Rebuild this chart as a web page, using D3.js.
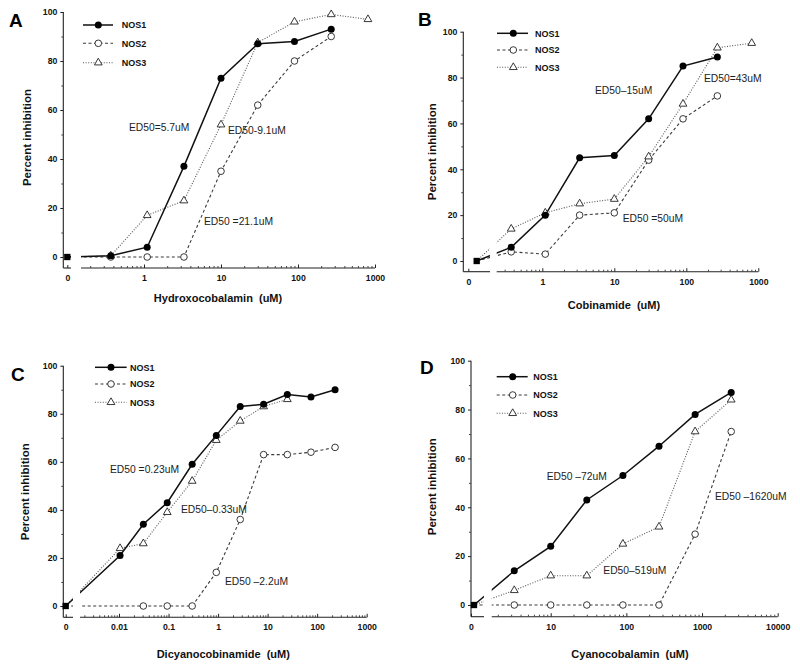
<!DOCTYPE html>
<html><head><meta charset="utf-8">
<script src="https://cdn.jsdelivr.net/npm/d3@7"></script>
<style>body{margin:0;background:#fff}svg{display:block}</style>
</head><body><svg id="c" width="800" height="666"></svg>
<script>
// ---------- DATA ----------
const seriesNames = ["NOS1", "NOS2", "NOS3"];

// Panel A – Hydroxocobalamin
const concA = [0, 0.37, 1.1, 3.3, 10, 30, 90, 270, 810];
const nos1A = [0, 0.5, 4, 37, 73, 87, 88, 93, null];
const nos2A = [0, 0, 0, 0, 35, 62, 80, 90, null];
const nos3A = [0, 0.5, 17, 23, 54, 87.5, 96, 99, 97];
const tickValsA = [1, 10, 100, 1000];
const tickLabsA = ["1", "10", "100", "1000"];
const notesA = ["ED50=5.7uM", "ED50-9.1uM", "ED50 =21.1uM"];

// Panel B – Cobinamide
const concB = [0, 0.37, 1.1, 3.3, 10, 30, 90, 270, 810];
const nos1B = [0, 6, 20, 45, 46, 62, 85, 89, null];
const nos2B = [0, 4, 3, 20, 21, 44, 62, 72, null];
const nos3B = [0, 14, 21, 25, 27, 45.5, 68.5, 93, 95];
const tickValsB = [1, 10, 100, 1000];
const tickLabsB = ["1", "10", "100", "1000"];
const notesB = ["ED50\u201315uM", "ED50=43uM", "ED50 =50uM"];

// Panel C – Dicyanocobinamide
const concC = [0, 0.0105, 0.031, 0.094, 0.30, 0.92, 2.8, 8.3, 25, 75, 230];
const nos1C = [0, 21, 34, 43, 59, 71, 83, 84, 88, 87, 90];
const nos2C = [0, null, 0, 0, 0, 14, 36, 63, 63, 64, 66];
const nos3C = [0, 24, 26, 39, 52, 69, 77, 83, 86, null, null];
const tickValsC = [0.01, 0.1, 1, 10, 100, 1000];
const tickLabsC = ["0.01", "0.1", "1", "10", "100", "1000"];
const notesC = ["ED50 =0.23uM", "ED50\u20130.33uM", "ED50 \u20132.2uM"];

// Panel D – Cyanocobalamin
const concD = [0, 3.3, 10, 30, 90, 270, 810, 2430];
const nos1D = [0, 14, 24, 43, 53, 65, 78, 87];
const nos2D = [0, 0, 0, 0, 0, 0, 29, 71];
const nos3D = [0, 6, 12, 12, 25, 32, 71, 84];
const tickValsD = [10, 100, 1000, 10000];
const tickLabsD = ["10", "100", "1000", "10000"];
const notesD = ["ED50 \u201372uM", "ED50 \u20131620uM", "ED50\u2013519uM"];

const letters = ["A", "B", "C", "D"];
const xTitles = ["Hydroxocobalamin  (uM)", "Cobinamide  (uM)", "Dicyanocobinamide  (uM)", "Cyanocobalamin  (uM)"];
const yTitle = "Percent inhibition";
const yMajor = [0, 20, 40, 60, 80, 100];
const yMinor = [10, 30, 50, 70, 90];

// ---------- LAYOUT ----------
const layouts = [
  {yAxisX:63.3, y100:12, y0:257, xAxisY:268, zeroX:67.3, zeroLabelX:67.3, zeroSegEnd:71, mainStart:81, mainEnd:375,
   logDomain:[1,1000], logRange:[144,375], letter:[9,27], legend:{x1:83,x2:113,mx:98.3,tx:121.7,ys:[25,43.3,62.7]},
   xTitle:[218,301.5], yTitle:[26.5,137.5], notes:[[129,127.7],[228,130.7],[204,221.7]]},
  {yAxisX:463.3, y100:31.7, y0:261, xAxisY:271.7, zeroX:476.7, zeroLabelX:468.3, zeroSegEnd:490, mainStart:496.7, mainEnd:758.3,
   logDomain:[1,1000], logRange:[542.3,758.3], letter:[418,25.5], legend:{x1:497,x2:528,mx:513.3,tx:535,ys:[33.3,50,67.3]},
   xTitle:[614,309], yTitle:[431.7,151.7], notes:[[595,90],[704,78.3],[622.7,218.3]]},
  {yAxisX:63.3, y100:365.7, y0:606, xAxisY:617.3, zeroX:65.7, zeroLabelX:65.7, zeroSegEnd:73, mainStart:80, mainEnd:366.7,
   logDomain:[0.01,1000], logRange:[119,366.7], letter:[11,380.5], legend:{x1:95,x2:126.7,mx:111,tx:130,ys:[367.3,384,402.3]},
   xTitle:[223.3,658], yTitle:[25,491.7], notes:[[110,469.3],[181,509],[225,581.7]]},
  {yAxisX:471, y100:360.7, y0:605, xAxisY:616.7, zeroX:474, zeroLabelX:471, zeroSegEnd:484, mainStart:491.7, mainEnd:777.7,
   logDomain:[10,10000], logRange:[550.7,777.7], letter:[420,374], legend:{x1:496.7,x2:527.7,mx:512.7,tx:533.3,ys:[376.7,395,413.3]},
   xTitle:[630,657.5], yTitle:[431.7,486.7], notes:[[546.7,476.7],[715,496],[603.3,570.7]]}
];

const panelData = [
  {conc:concA, series:[nos1A,nos2A,nos3A], tv:tickValsA, tl:tickLabsA, notes:notesA},
  {conc:concB, series:[nos1B,nos2B,nos3B], tv:tickValsB, tl:tickLabsB, notes:notesB},
  {conc:concC, series:[nos1C,nos2C,nos3C], tv:tickValsC, tl:tickLabsC, notes:notesC},
  {conc:concD, series:[nos1D,nos2D,nos3D], tv:tickValsD, tl:tickLabsD, notes:notesD}
];

const FONT = "'Liberation Sans', Arial, Helvetica, sans-serif";
const styles = [
  {stroke:"#111", width:1.5, dash:null},
  {stroke:"#3a3a3a", width:1.1, dash:"3,2.5"},
  {stroke:"#555", width:1.1, dash:"1,1.6"}
];

const svg = d3.select("#c").style("font-family", FONT);

function marker(g, si, x, y) {
  if (si === 0) {
    g.append("circle").attr("cx", x).attr("cy", y).attr("r", 3.5).attr("fill", "#000");
  } else if (si === 1) {
    g.append("circle").attr("cx", x).attr("cy", y).attr("r", 3.3).attr("fill", "#fff")
      .attr("stroke", "#222").attr("stroke-width", 0.9);
  } else {
    g.append("path").attr("d", d3.symbol(d3.symbolTriangle, 26)())
      .attr("transform", `translate(${x},${y})`).attr("fill", "#fff")
      .attr("stroke", "#222").attr("stroke-width", 0.9);
  }
}

layouts.forEach((L, pi) => {
  const P = panelData[pi];
  const g = svg.append("g");
  const lx = d3.scaleLog().domain(L.logDomain).range(L.logRange);
  const xf = c => c === 0 ? L.zeroX : lx(c);
  const y = d3.scaleLinear().domain([0, 100]).range([L.y0, L.y100]);

  // y axis
  g.append("line").attr("x1", L.yAxisX).attr("x2", L.yAxisX).attr("y1", L.y100).attr("y2", L.xAxisY)
    .attr("stroke", "#222").attr("stroke-width", 1.1);
  const ya = g.append("g").attr("transform", `translate(${L.yAxisX},0)`)
    .call(d3.axisLeft(y).tickValues(yMajor).tickSize(3).tickPadding(3).tickFormat(d3.format("d")));
  ya.select(".domain").remove();
  ya.selectAll("text").attr("font-size", 8.7).attr("font-weight", "bold").attr("font-family", FONT).attr("fill", "#111");
  ya.selectAll("line").attr("stroke", "#222");
  const ym = g.append("g").attr("transform", `translate(${L.yAxisX},0)`)
    .call(d3.axisLeft(y).tickValues(yMinor).tickSize(2).tickFormat(""));
  ym.select(".domain").remove();
  ym.selectAll("line").attr("stroke", "#444");

  // x axis segments
  g.append("line").attr("x1", L.yAxisX).attr("x2", L.zeroSegEnd).attr("y1", L.xAxisY).attr("y2", L.xAxisY)
    .attr("stroke", "#222").attr("stroke-width", 1.1);
  g.append("line").attr("x1", L.mainStart).attr("x2", L.mainEnd).attr("y1", L.xAxisY).attr("y2", L.xAxisY)
    .attr("stroke", "#222").attr("stroke-width", 1.1);
  const xa = g.append("g").attr("transform", `translate(0,${L.xAxisY})`)
    .call(d3.axisBottom(lx).tickValues(P.tv).tickSize(-3.5).tickPadding(7).tickFormat((d, i) => P.tl[i]));
  xa.select(".domain").remove();
  xa.selectAll("text").attr("font-size", 8.7).attr("font-weight", "bold").attr("font-family", FONT).attr("fill", "#111");
  xa.selectAll("line").attr("stroke", "#222");
  // minor x ticks
  const lo = lx.invert(L.mainStart), hi = lx.invert(L.mainEnd);
  const minors = [];
  for (let e = Math.floor(Math.log10(lo)); e <= Math.ceil(Math.log10(hi)); e++) {
    for (let m = 2; m <= 9; m++) {
      const v = m * Math.pow(10, e);
      if (v >= lo && v <= hi) minors.push(v);
    }
  }
  const xm = g.append("g").attr("transform", `translate(0,${L.xAxisY})`)
    .call(d3.axisBottom(lx).tickValues(minors).tickSize(-2).tickFormat(""));
  xm.select(".domain").remove();
  xm.selectAll("line").attr("stroke", "#444");
  // zero tick
  const z = d3.scaleLinear().domain([0, 1]).range([L.zeroLabelX, L.zeroLabelX + 10]);
  const xz = g.append("g").attr("transform", `translate(0,${L.xAxisY})`)
    .call(d3.axisBottom(z).tickValues([0]).tickSize(-3).tickPadding(7).tickFormat(d3.format("d")));
  xz.select(".domain").remove();
  xz.selectAll("text").attr("font-size", 8.7).attr("font-weight", "bold").attr("font-family", FONT).attr("fill", "#111");
  xz.selectAll("line").attr("stroke", "#222");

  // clip excluding axis break gap
  const cid = "clip" + pi;
  const cp = svg.append("clipPath").attr("id", cid);
  cp.append("rect").attr("x", 0).attr("y", 0).attr("width", L.zeroSegEnd).attr("height", 666);
  cp.append("rect").attr("x", L.mainStart).attr("y", 0).attr("width", 800 - L.mainStart).attr("height", 666);

  // lines
  const lineG = g.append("g").attr("clip-path", `url(#${cid})`);
  [2, 1, 0].forEach(si => {
    const pts = P.conc.map((c, i) => ({c, v: P.series[si][i]})).filter(d => d.v != null);
    lineG.append("path").datum(pts)
      .attr("d", d3.line().x(d => xf(d.c)).y(d => y(d.v)))
      .attr("fill", "none").attr("stroke", styles[si].stroke).attr("stroke-width", styles[si].width)
      .attr("stroke-dasharray", styles[si].dash);
  });
  // markers
  [1, 2, 0].forEach(si => {
    P.conc.forEach((c, i) => {
      const v = P.series[si][i];
      if (v == null || c === 0) return;
      marker(g, si, xf(c), y(v));
    });
  });
  // zero point (overlapping markers)
  g.append("path").attr("d", d3.symbol(d3.symbolSquare, 40)())
    .attr("transform", `translate(${xf(P.conc[0])},${y(P.series[0][0])})`).attr("fill", "#000");

  // legend
  seriesNames.forEach((name, si) => {
    const ly = L.legend.ys[si];
    g.append("line").attr("x1", L.legend.x1).attr("x2", L.legend.x2).attr("y1", ly).attr("y2", ly)
      .attr("stroke", styles[si].stroke).attr("stroke-width", styles[si].width).attr("stroke-dasharray", styles[si].dash);
    marker(g, si, L.legend.mx, ly);
    g.append("text").attr("x", L.legend.tx).attr("y", ly + 3.3).text(name)
      .attr("font-size", 9).attr("font-weight", "bold").attr("fill", "#111");
  });

  // annotations
  P.notes.forEach((t, i) => {
    g.append("text").attr("x", L.notes[i][0]).attr("y", L.notes[i][1] + 3.6).text(t)
      .attr("font-size", 10.3).attr("fill", "#222");
  });

  // titles
  g.append("text").attr("x", L.xTitle[0]).attr("y", L.xTitle[1]).attr("text-anchor", "middle")
    .attr("font-size", 11).attr("font-weight", "bold").attr("fill", "#111")
    .style("white-space", "pre").attr("xml:space", "preserve").text(xTitles[pi]);
  g.append("text").attr("transform", `translate(${L.yTitle[0] + 4},${L.yTitle[1]}) rotate(-90)`)
    .attr("text-anchor", "middle").attr("font-size", 11.5).attr("font-weight", "bold").attr("fill", "#111")
    .text(yTitle);
  g.append("text").attr("x", L.letter[0]).attr("y", L.letter[1]).text(letters[pi])
    .attr("font-size", 19).attr("font-weight", "bold").attr("fill", "#000");
});
</script>
</body></html>
